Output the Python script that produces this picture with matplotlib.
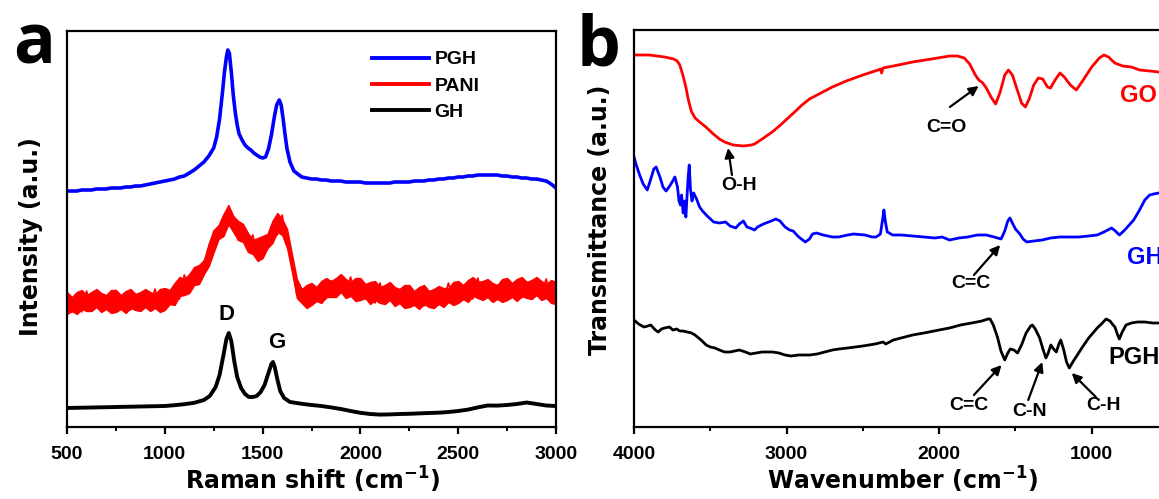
import matplotlib
matplotlib.use("Agg")
import matplotlib.pyplot as plt
from matplotlib.ticker import MultipleLocator, NullLocator

plt.rcParams["font.family"] = ["Liberation Sans", "DejaVu Sans"]
plt.rcParams["font.weight"] = "bold"
plt.rcParams["mathtext.fontset"] = "custom"
plt.rcParams["mathtext.rm"] = "DejaVu Sans:bold"
plt.rcParams["mathtext.bf"] = "DejaVu Sans:bold"
plt.rcParams["mathtext.default"] = "rm"

# ---- panel a: Raman spectra (intensity in a.u., offset stacked) ----
pgh_x = [500, 525, 550, 575, 600, 625, 650, 675, 700, 725, 750, 775, 800, 825, 850,
         875, 900, 925, 950, 975, 1000, 1025, 1050, 1075, 1100, 1125, 1150, 1175, 1200,
         1225, 1250, 1265, 1280, 1295, 1305, 1315, 1322, 1330, 1340, 1350, 1360, 1370,
         1380, 1395, 1410, 1425, 1440, 1455, 1470, 1485, 1500, 1515, 1530, 1545, 1560,
         1572, 1585, 1595, 1605, 1615, 1625, 1640, 1660, 1680, 1700, 1725, 1750, 1775,
         1800, 1825, 1850, 1875, 1900, 1925, 1950, 1975, 2000, 2025, 2050, 2075, 2100,
         2125, 2150, 2175, 2200, 2225, 2250, 2275, 2300, 2325, 2350, 2375, 2400, 2425,
         2450, 2475, 2500, 2525, 2550, 2575, 2600, 2625, 2650, 2675, 2700, 2725, 2750,
         2775, 2800, 2825, 2850, 2875, 2900, 2925, 2950, 2975, 3000]
pgh_y = [236, 236, 236, 237, 237, 237, 238, 238, 238, 239, 239, 239, 240, 240, 241,
         241, 242, 243, 244, 245, 246, 247, 248, 250, 251, 254, 257, 261, 265,
         271, 279, 290, 308, 335, 355, 370, 377, 374, 355, 332, 315, 302,
         293, 287, 282, 279, 277, 274, 272, 270, 269, 270, 278, 292, 310,
         322, 327, 322, 308, 292, 278, 265, 256, 253, 250, 249, 248, 248,
         247, 247, 246, 246, 246, 245, 245, 245, 245, 244, 244, 244, 244,
         244, 244, 245, 245, 245, 245, 246, 246, 246, 247, 247, 248, 248,
         249, 249, 250, 250, 251, 251, 252, 252, 252, 252, 252, 251, 251,
         250, 250, 249, 249, 248, 248, 247, 246, 243, 239]

pani_x = list(range(500, 3001, 25))
pani_y = [132, 115, 131, 115, 136, 119, 135, 118, 131, 115, 136, 120, 134, 117, 133,
          116, 135, 122, 138, 119, 136, 122, 140, 128, 152, 137, 157, 146, 166, 162,
          196, 190, 211, 201, 211, 187, 200, 181, 192, 170, 188, 178, 202, 192, 212,
          182, 170, 132, 137, 120, 143, 128, 144, 128, 146, 130, 150, 135, 150, 130,
          146, 128, 141, 124, 144, 126, 142, 124, 137, 120, 141, 124, 138, 121, 136,
          119, 138, 126, 144, 126, 143, 127, 143, 128, 149, 130, 145, 128, 141, 126,
          148, 132, 146, 129, 145, 128, 147, 133, 148, 128, 142]
# upper / lower edge of the noisy PANI band
pani_top = [135, 130, 135, 137, 132, 135, 138, 134, 132, 137, 137, 132, 136, 138, 133,
            135, 138, 135, 133, 138, 139, 137, 144, 150, 148, 153, 160, 162, 167, 184,
            197, 202, 213, 222, 211, 206, 203, 194, 187, 189, 191, 193, 206, 214, 208,
            198, 173, 148, 138, 142, 144, 140, 146, 149, 146, 149, 153, 148, 145, 149,
            149, 143, 145, 146, 140, 142, 145, 140, 138, 142, 142, 136, 140, 142, 136,
            138, 141, 139, 139, 145, 146, 142, 147, 150, 145, 146, 148, 144, 142, 148,
            149, 144, 148, 150, 145, 147, 150, 146, 143, 147, 145]
pani_bot = [113, 116, 113, 118, 116, 116, 120, 115, 118, 114, 115, 118, 114, 119, 117,
            116, 120, 116, 119, 115, 117, 123, 122, 131, 132, 134, 142, 143, 153, 161,
            175, 188, 191, 203, 195, 187, 185, 175, 173, 166, 169, 179, 184, 195, 192,
            179, 155, 129, 124, 119, 122, 126, 124, 130, 130, 130, 135, 129, 131, 126,
            127, 129, 123, 127, 124, 123, 127, 121, 124, 119, 120, 122, 118, 123, 120,
            119, 123, 120, 125, 122, 124, 128, 125, 131, 129, 127, 130, 125, 128, 125,
            127, 130, 126, 131, 129, 128, 132, 127, 129, 124, 123]

gh_x = [500, 550, 600, 650, 700, 750, 800, 850, 900, 950, 1000, 1050, 1100, 1150, 1200,
        1230, 1260, 1280, 1300, 1315, 1327, 1340, 1355, 1370, 1390, 1410, 1430, 1450,
        1470, 1490, 1510, 1530, 1545, 1553, 1562, 1575, 1590, 1610, 1640, 1700, 1750,
        1800, 1850, 1900, 1950, 2000, 2050, 2100, 2150, 2200, 2250, 2300, 2350, 2400,
        2450, 2500, 2550, 2600, 2650, 2700, 2750, 2800, 2850, 2900, 2950, 3000]
gh_y = [19.0, 19.2, 19.4, 19.6, 19.8, 20.0, 20.2, 20.4, 20.6, 20.8, 21.0, 21.8, 22.8, 24.2, 27,
        31, 40, 52, 72, 88, 94, 86, 66, 50, 39, 33, 30, 30,
        31, 35, 42, 54, 63, 65, 60, 48, 36, 29, 25, 23.2, 22,
        21, 19.6, 18, 16, 14.2, 13, 12.4, 12.6, 13, 13.2, 13.6, 14, 14.3,
        15, 16, 17.4, 19.6, 21.5, 21.4, 22, 23, 24.5, 23, 21.5, 21]

# ---- panel b: FTIR spectra (transmittance in a.u., offset stacked) ----
go_x = [4000, 3900, 3800, 3740, 3717, 3700, 3680, 3660, 3645, 3625, 3600, 3570, 3529,
        3480, 3440, 3406, 3350, 3283, 3230, 3210, 3160, 3094, 3040, 2990, 2940, 2899,
        2850, 2775, 2700, 2609, 2500, 2400, 2385, 2377, 2368, 2300, 2174, 2050, 1932,
        1880, 1835, 1800, 1763, 1740, 1714, 1691, 1660, 1630, 1600, 1570, 1546, 1520,
        1490, 1460, 1435, 1410, 1380, 1350, 1321, 1290, 1270, 1240, 1208, 1180, 1140,
        1101, 1060, 1000, 950, 920, 890, 849, 797, 740, 686, 620, 561, 500]
go_y = [372, 372, 370, 368, 366, 362, 352, 340, 328, 316, 309, 305, 300,
        293, 288, 285, 282, 281, 282, 283, 288, 295, 302, 309, 316, 322,
        328, 334, 340, 346, 352, 357, 358, 354, 359, 361, 365, 368, 371,
        371, 369, 363, 352, 347, 344, 339, 330, 323, 335, 352, 357, 352,
        338, 324, 320, 328, 342, 349, 348, 340, 339, 347, 354, 350, 342,
        337, 346, 360, 369, 372, 370, 364, 361, 360, 357, 356, 355, 354]

ghb_x = [4000, 3985, 3963, 3940, 3913, 3890, 3870, 3855, 3830, 3810, 3790, 3770, 3750,
         3732, 3715, 3705, 3696, 3688, 3678, 3668, 3660, 3652, 3645, 3638, 3630, 3620,
         3609, 3590, 3570, 3551, 3520, 3478, 3440, 3400, 3370, 3333, 3310, 3283, 3260,
         3240, 3210, 3190, 3152, 3100, 3070, 3043, 3010, 2980, 2957, 2920, 2877, 2850,
         2830, 2804, 2760, 2700, 2659, 2600, 2560, 2486, 2440, 2413, 2385, 2370, 2362,
         2352, 2340, 2304, 2250, 2174, 2100, 2029, 1980, 1932, 1870, 1812, 1750, 1691,
         1640, 1594, 1570, 1550, 1536, 1520, 1500, 1471, 1450, 1425, 1380, 1324, 1270,
         1208, 1150, 1087, 1020, 964, 920, 870, 845, 819, 790, 760, 725, 690, 652, 620,
         594, 560, 500]
ghb_y = [270, 262, 252, 243, 237, 248, 258, 260, 250, 240, 236, 240, 245,
         250, 240, 226, 222, 232, 214, 226, 210, 232, 250, 262, 238, 226,
         234, 228, 220, 216, 211, 205, 204, 205, 201, 199, 203, 206, 200,
         199, 197, 200, 203, 206, 208, 206, 200, 197, 196, 190, 185, 188,
         193, 194, 192, 190, 190, 192, 193, 192, 190, 190, 193, 208, 217,
         205, 195, 192, 192, 191, 190, 189, 190, 187, 189, 190, 192, 192,
         190, 188, 196, 206, 209, 204, 198, 193, 188, 185, 186, 187, 189,
         190, 190, 190, 191, 192, 195, 199, 196, 192, 196, 201, 207, 216, 227, 232,
         233, 234, 236]

pgh_b_x = [4000, 3970, 3935, 3910, 3890, 3860, 3841, 3820, 3800, 3768, 3745, 3720, 3700,
           3680, 3650, 3623, 3600, 3560, 3527, 3500, 3470, 3440, 3406, 3370, 3340, 3309,
           3270, 3237, 3200, 3160, 3120, 3092, 3050, 3010, 2971, 2920, 2850, 2800, 2750,
           2700, 2657, 2600, 2500, 2420, 2367, 2350, 2300, 2250, 2174, 2100, 2000, 1932,
           1860, 1787, 1720, 1680, 1666, 1645, 1618, 1595, 1570, 1550, 1534, 1510, 1486,
           1460, 1430, 1400, 1389, 1370, 1341, 1320, 1300, 1285, 1268, 1250, 1232, 1215,
           1203, 1185, 1165, 1147, 1120, 1090, 1065, 1020, 964, 930, 906, 880, 860, 848,
           830, 819, 800, 775, 740, 700, 652, 600, 558, 500]
pgh_b_y = [107, 103, 100, 101, 102, 97, 95, 98, 99, 100, 97, 98, 96,
           96, 95, 94, 92, 87, 82, 80, 79, 77, 75, 75, 76, 77,
           75, 73, 74, 75, 75, 75, 74, 72, 71, 72, 72, 73, 75,
           77, 78, 79, 81, 83, 85, 83, 87, 89, 92, 94, 97, 99,
           102, 104, 106, 108, 108, 102, 90, 76, 67, 74, 78, 77, 74,
           82, 94, 101, 102, 98, 89, 78, 69, 74, 82, 78, 75, 83,
           87, 78, 65, 59, 66, 73, 79, 89, 99, 104, 108, 106, 102, 100,
           92, 88, 95, 102, 104, 105, 105, 104, 104, 104]

fig = plt.figure(figsize=(11.59, 4.99), dpi=100)
W, H = 1159.0, 499.0

ax_a = fig.add_axes([67 / W, 1 - 427 / H, 489 / W, 396 / H])
ax_b = fig.add_axes([634 / W, 1 - 427 / H, 534 / W, 397 / H])

ax_a.plot(pgh_x, pgh_y, color="#0000ff", lw=2.6, label="PGH")
ax_a.fill_between(pani_x, pani_bot, pani_top, color="#ff0000", lw=1.0)
ax_a.plot(pani_x, pani_y, color="#ff0000", lw=1.2, label="PANI")
ax_a.plot(gh_x, gh_y, color="black", lw=2.8, label="GH")
ax_a.set_xlim(500, 3000)
ax_a.set_ylim(0, 396)
ax_a.xaxis.set_major_locator(MultipleLocator(500))
ax_a.xaxis.set_minor_locator(MultipleLocator(250))
ax_a.text(1313, 113, "D", fontsize=16, fontweight="bold", ha="center", va="center")
ax_a.text(1574, 85, "G", fontsize=16, fontweight="bold", ha="center", va="center")
leg = ax_a.legend(loc="upper left", bbox_to_anchor=(0.624, 0.95), frameon=False,
                  fontsize=14, handlelength=2.9, handletextpad=0.3,
                  labelspacing=0.45, borderpad=0, borderaxespad=0)
for line in leg.get_lines():
    line.set_linewidth(2.8)

ax_b.plot(go_x, go_y, color="#ff0000", lw=2.0)
ax_b.plot(ghb_x, ghb_y, color="#0000ff", lw=2.0)
ax_b.plot(pgh_b_x, pgh_b_y, color="black", lw=2.0)
ax_b.set_xlim(4000, 500)
ax_b.set_ylim(0, 397)
ax_b.xaxis.set_major_locator(MultipleLocator(1000))
ax_b.xaxis.set_minor_locator(MultipleLocator(500))

ax_b.text(817, 331, "GO", color="#ff0000", fontsize=17, fontweight="bold", va="center")
ax_b.text(771, 169, "GH", color="#0000ff", fontsize=17, fontweight="bold", va="center")
ax_b.text(889, 70, "PGH", color="black", fontsize=17, fontweight="bold", va="center")

notes = [
    ("C=O", (1949, 299), (1930, 320), (1741, 341)),
    ("O-H", (3310, 242), (3358, 252), (3383, 279)),
    ("C=C", (1792, 143), (1772, 152), (1600, 182)),
    ("C=C", (1804, 22), (1772, 32), (1591, 62)),
    ("C-N", (1409, 16), (1416, 27), (1324, 65)),
    ("C-H", (925, 21), (973, 30), (1131, 54)),
]
for label, pos, tail, tip in notes:
    ax_b.text(pos[0], pos[1], label, fontsize=14, fontweight="bold",
              ha="center", va="center")
    ax_b.annotate("", xy=tip, xytext=tail,
                  arrowprops=dict(arrowstyle="-|>", color="black", lw=1.6,
                                  mutation_scale=14, shrinkA=0, shrinkB=0))

for ax in (ax_a, ax_b):
    ax.yaxis.set_major_locator(NullLocator())
    for sp in ax.spines.values():
        sp.set_linewidth(1.6)
    ax.tick_params(axis="x", which="major", direction="out", length=5, width=1.6,
                   labelsize=14, pad=9)
    ax.tick_params(axis="x", which="minor", direction="out", length=3, width=1.4)
    for t in ax.get_xticklabels():
        t.set_fontweight("bold")

label_font = ["DejaVu Sans"]
fig.text(312 / W, 1 - 490 / H, r"Raman shift (cm$^{-1}$)", fontsize=17,
         fontweight="bold", family=label_font, ha="center", va="baseline")
fig.text(902 / W, 1 - 490 / H, r"Wavenumber (cm$^{-1}$)", fontsize=17,
         fontweight="bold", family=label_font, ha="center", va="baseline")
fig.text(31 / W, 1 - 237 / H, "Intensity (a.u.)", fontsize=17, fontweight="bold",
         family=label_font, rotation=90, ha="center", va="center")
fig.text(600 / W, 1 - 220 / H, "Transmittance (a.u.)", fontsize=17, fontweight="bold",
         family=label_font, rotation=90, ha="center", va="center")

fig.text(13 / W, 1 - 63 / H, "a", fontsize=50, fontweight="bold",
         family=["Open Sans", "DejaVu Sans"], ha="left", va="baseline")
fig.text(577 / W, 1 - 65 / H, "b", fontsize=50, fontweight="bold",
         family=["Open Sans", "DejaVu Sans"], ha="left", va="baseline")

fig.savefig("out.png", dpi=100)
